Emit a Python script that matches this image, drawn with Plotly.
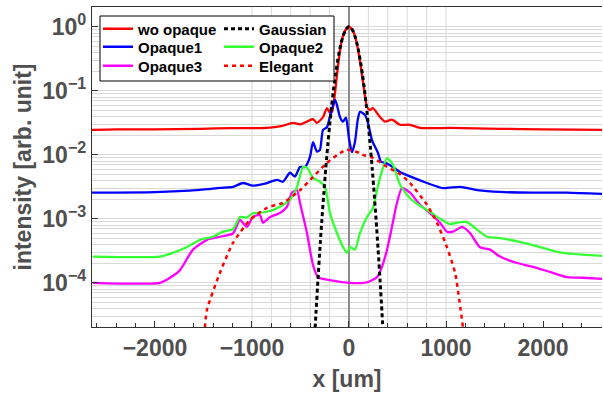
import plotly.graph_objects as go

# ---------------- data ----------------
x_wo = [-2650, -2400, -2000, -1536, -1196, -845, -700, -577, -500, -433, -371, -330, -268, -227, -195, -175,
        -144, -120, -80, -40, 0, 40, 80, 120, 150, 186, 216, 247, 320, 371, 443, 526, 629, 732, 1041, 1557, 2000, 2608]
y_wo = [0.0245, 0.0250, 0.0250, 0.0255, 0.0262, 0.0264, 0.028, 0.0316, 0.030, 0.0331, 0.0363, 0.0316, 0.0389,
        0.0537, 0.045, 0.0468, 0.0933, 0.20, 0.56, 0.87, 1.0, 0.87, 0.56, 0.25, 0.12, 0.056, 0.0501, 0.0537,
        0.0389, 0.0331, 0.0355, 0.0295, 0.0295, 0.0263, 0.0263, 0.0255, 0.0250, 0.0245]

x_op1 = [-2650, -2000, -1536, -1330, -1196, -1093, -990, -845, -742, -680, -608, -557, -505, -454, -402, -371,
         -330, -299, -268, -227, -196, -144, -124, -93, -62, -31, 0, 31, 62, 90, 113, 165, 196, 237, 299, 330,
         371, 423, 526, 629, 804, 969, 1144, 1320, 1557, 1897, 2247, 2608]
y_op1 = [0.00257, 0.00262, 0.00284, 0.00305, 0.00316, 0.00363, 0.00331, 0.00363, 0.00407, 0.0038, 0.00525,
         0.00457, 0.00646, 0.00646, 0.00933, 0.0158, 0.0112, 0.012, 0.0245, 0.027, 0.040, 0.072, 0.060, 0.039,
         0.033, 0.038, 0.018, 0.011, 0.016, 0.035, 0.047, 0.042, 0.0316, 0.017, 0.0107, 0.0078, 0.0075, 0.0069,
         0.0054, 0.0046, 0.00363, 0.00302, 0.00316, 0.00282, 0.00263, 0.00257, 0.00257, 0.00245]

x_op2 = [-2640, -1948, -1814, -1670, -1536, -1402, -1299, -1196, -1124, -1052, -990, -948, -845, -711, -608,
         -536, -474, -433, -371, -299, -247, -196, -124, -62, -21, 10, 31, 62, 113, 186, 247, 289, 320, 392,
         454, 526, 629, 732, 835, 938, 1041, 1144, 1216, 1320, 1423, 1557, 1897, 2175, 2412, 2608]
y_op2 = [2.57e-4, 2.57e-4, 2.95e-4, 3.63e-4, 4.68e-4, 5.25e-4, 6.3e-4, 6.9e-4, 1.07e-3, 1.05e-3, 1.23e-3,
         1.23e-3, 1.29e-3, 1.55e-3, 2.0e-3, 3.16e-3, 6.46e-3, 6.3e-3, 4.37e-3, 3.8e-3, 3.16e-3, 1.23e-3,
         6.0e-4, 3.63e-4, 2.95e-4, 3.63e-4, 3.5e-4, 3.3e-4, 6.0e-4, 1.07e-3, 1.48e-3, 2.8e-3, 4.4e-3, 8.9e-3,
         6.9e-3, 3.4e-3, 2.1e-3, 1.6e-3, 1.29e-3, 1.0e-3, 8.3e-4, 8.9e-4, 8.9e-4, 6.8e-4, 5.25e-4, 5.0e-4,
         3.9e-4, 3.0e-4, 2.75e-4, 2.63e-4]

x_op3 = [-2640, -1948, -1845, -1742, -1608, -1464, -1330, -1196, -1124, -1052, -990, -918, -887, -814, -711,
         -639, -588, -536, -505, -433, -371, -320, -227, 10, 186, 289, 340, 392, 443, 495, 546, 629, 732, 835,
         938, 1010, 1072, 1165, 1247, 1350, 1454, 1557, 1732, 1897, 2072, 2247, 2412, 2608]
y_op3 = [1.0e-4, 1.0e-4, 1.2e-4, 1.58e-4, 3.3e-4, 4.7e-4, 5.25e-4, 5.9e-4, 9.6e-4, 7.5e-4, 1.07e-3, 1.15e-3,
         8.7e-4, 1.07e-3, 1.23e-3, 1.55e-3, 2.57e-3, 2.8e-3, 1.78e-3, 6.0e-4, 1.9e-4, 1.23e-4, 1.12e-4, 1.0e-4,
         1.02e-4, 1.23e-4, 1.78e-4, 3.3e-4, 7.5e-4, 1.78e-3, 3.0e-3, 2.57e-3, 1.66e-3, 1.23e-3, 8.7e-4, 6.3e-4,
         6.3e-4, 7.5e-4, 6.0e-4, 3.6e-4, 3.3e-4, 2.57e-4, 2.04e-4, 1.78e-4, 1.48e-4, 1.23e-4, 1.2e-4, 1.15e-4]

x_gauss = [-380, -360, -340, -320, -300, -280, -260, -240, -220, -200, -180, -160, -140, -120, -100, -80, -60,
           -40, -20, 0, 20, 40, 60, 80, 100, 120, 140, 160, 180, 200, 220, 240, 260, 280, 300, 320, 340, 360, 380]
y_gauss = [2.66e-6, 9.9e-6, 3.44e-5, 1.11e-4, 3.35e-4, 9.4e-4, 2.46e-3, 5.97e-3, 1.354e-2, 2.86e-2, 5.61e-2,
           0.103, 0.175, 0.278, 0.411, 0.566, 0.726, 0.867, 0.965, 1.0, 0.965, 0.867, 0.726, 0.566, 0.411, 0.278,
           0.175, 0.103, 5.61e-2, 2.86e-2, 1.354e-2, 5.97e-3, 2.46e-3, 9.4e-4, 3.35e-4, 1.11e-4, 3.44e-5, 9.9e-6,
           2.66e-6]

x_eleg = [-1485, -1464, -1330, -1196, -1021, -845, -680, -505, -371, -227, -93, -21, 113, 144, 247, 392, 526,
          629, 804, 907, 1010, 1093, 1175]
y_eleg = [2.0e-5, 3.8e-5, 1.44e-4, 4.2e-4, 9.6e-4, 1.49e-3, 1.78e-3, 2.8e-3, 4.5e-3, 7.5e-3, 0.0107, 0.012,
          0.0107, 0.0100, 0.0090, 0.0065, 0.0050, 0.00363, 1.66e-3, 8.7e-4, 3.6e-4, 1.44e-4, 2.0e-5]

x_ticks = [-2000, -1000, 0, 1000, 2000]
x_tick_text = ["−2000", "−1000", "0", "1000", "2000"]
y_tick_vals = [1e-4, 1e-3, 1e-2, 1e-1, 1]
y_tick_text = ["10<sup>−4</sup>", "10<sup>−3</sup>", "10<sup>−2</sup>", "10<sup>−1</sup>", "10<sup>0</sup>"]

# ---------------- style ----------------
FONT = "Liberation Sans, Arial, sans-serif"
GRID = "#d9d9d9"
TICKCOL = "#4f4f4f"
L, R, T, B = 92, 1, 7, 72
W, H = 603, 399
PW, PH = W - L - R, H - T - B


def px_x(p):
    return (p - L) / PW


def px_y(p):
    return (H - B - p) / PH


fig = go.Figure()

# each legend entry gets its own legend so rows/columns can be placed like the reference
entries = [
    (x_wo, y_wo, "wo opaque", "#ff0000", "solid", 2.3, 98, 29),
    (x_op1, y_op1, "Opaque1", "#0000ff", "solid", 2.3, 98, 47),
    (x_op3, y_op3, "Opaque3", "#ff00ff", "solid", 2.3, 98, 66),
    (x_op2, y_op2, "Opaque2", "#33ff33", "solid", 2.3, 219, 47),
    (x_eleg, y_eleg, "Elegant", "#ff0000", "4px,4px", 2.5, 219, 66),
    (x_gauss, y_gauss, "Gaussian", "#000000", "4px,3px", 3.0, 219, 29),
]

legends = {}
for i, (x, y, name, color, dash, width, lx, ly) in enumerate(entries):
    key = "legend" if i == 0 else f"legend{i + 1}"
    fig.add_trace(go.Scatter(x=x, y=y, name=name, mode="lines",
                             line=dict(color=color, width=width, dash=dash, shape="spline", smoothing=0.6),
                             legend=key))
    legends[key] = dict(x=px_x(lx), y=px_y(ly), xanchor="left", yanchor="middle",
                        bgcolor="rgba(0,0,0,0)", borderwidth=0, itemwidth=30, tracegroupgap=0,
                        font=dict(family=FONT, size=15, color="black", weight="bold"))

# vertical grid lines (every 200 between -1000 and 1000)
shapes = []
for v in range(-1000, 1001, 200):
    if v == 0:
        continue
    shapes.append(dict(type="line", xref="x", yref="paper", x0=v, x1=v, y0=0, y1=1,
                       line=dict(color=GRID, width=1), layer="below"))
# legend box
shapes.append(dict(type="rect", xref="paper", yref="paper",
                   x0=px_x(100), x1=px_x(334), y0=px_y(81), y1=px_y(16),
                   fillcolor="white", line=dict(color="black", width=1), layer="above"))

minor_y = [m * 10 ** e for e in range(-5, 1) for m in range(2, 10)]

fig.update_layout(
    width=W, height=H,
    margin=dict(l=L, r=R, t=T, b=B, autoexpand=False),
    paper_bgcolor="white", plot_bgcolor="rgba(0,0,0,0)",
    font=dict(family=FONT, color=TICKCOL),
    shapes=shapes,
    showlegend=True,
    xaxis=dict(range=[-2649, 2608], tickmode="array", tickvals=x_ticks, ticktext=x_tick_text,
               automargin=False,
               showgrid=False, zeroline=True, zerolinecolor="#8c8c8c", zerolinewidth=1.5,
               showline=True, linecolor="#333333", linewidth=1.3, mirror=True,
               ticks="inside", ticklen=6, tickcolor="#333333",
               tickfont=dict(family=FONT, size=23, color=TICKCOL, weight="bold"),
               minor=dict(tickmode="array", tickvals=list(range(-2600, 2601, 200)), ticks="inside",
                          ticklen=4, tickcolor="#333333", showgrid=False),
               title=dict(text="x [um]", standoff=11,
                          font=dict(family=FONT, size=23, color=TICKCOL, weight="bold"))),
    yaxis=dict(type="log", range=[-4.69, 0.31], tickmode="array", tickvals=y_tick_vals,
               ticktext=y_tick_text, showgrid=True, gridcolor=GRID, gridwidth=1,
               automargin=False,
               showline=True, linecolor="#333333", linewidth=1.3,
               ticks="inside", ticklen=6, tickcolor="#333333",
               tickfont=dict(family=FONT, size=23, color=TICKCOL, weight="bold"),
               minor=dict(tickmode="array", tickvals=minor_y, showgrid=True, gridcolor=GRID,
                          gridwidth=1, ticks=""),
               title=dict(text="intensity [arb. unit]", standoff=4,
                          font=dict(family=FONT, size=23, color=TICKCOL, weight="bold"))),
    **legends,
)

fig.write_html("out.html", config={"displayModeBar": False},
               post_script="document.body.style.margin='0';document.body.style.overflow='hidden';")
